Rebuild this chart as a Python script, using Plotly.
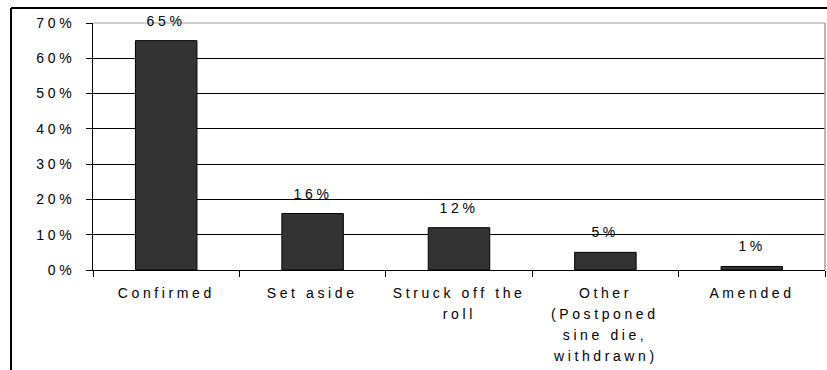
import plotly.graph_objects as go

categories = ["Confirmed", "Set aside", "Struck off the<br>roll",
              "Other<br>(Postponed<br>sine die,<br>withdrawn)", "Amended"]
shares = [65, 16, 12, 5, 1]
y_ticks = [0, 10, 20, 30, 40, 50, 60, 70]
y_tick_labels = [f"{v}%" for v in y_ticks]
value_labels = [f"{v}%" for v in shares]

FONT = dict(family="Liberation Sans, Arial, sans-serif", size=14, color="#000000")
LINE_STEP = 21  # spacing between lines of a category label, px

fig = go.Figure()
fig.add_trace(go.Bar(
    x=categories, y=shares,
    marker=dict(color="#333333", line=dict(color="#000000", width=1)),
    width=0.42,
    hoverinfo="skip",
))

# value labels above each bar
for cat, val, lab in zip(categories, shares, value_labels):
    fig.add_annotation(x=cat, y=val, text=lab, showarrow=False,
                       xanchor="center", yanchor="middle", yshift=20, font=FONT)

# category labels, one annotation per text line for wider line spacing
for cat in categories:
    for i, line in enumerate(cat.split("<br>")):
        fig.add_annotation(x=cat, xref="x", y=0, yref="paper", text=line,
                           showarrow=False, xanchor="center", yanchor="middle",
                           yshift=-(23 + i * LINE_STEP), font=FONT)

shapes = [
    # plot-area border (grey top and right edges)
    dict(type="line", xref="paper", yref="paper", x0=0, x1=1, y0=1, y1=1,
         line=dict(color="#a0a0a0", width=1), layer="above"),
    dict(type="line", xref="paper", yref="paper", x0=1, x1=1, y0=0, y1=1,
         line=dict(color="#a0a0a0", width=1.5), layer="above"),
    # outer chart frame (left and top edges)
    dict(type="line", xref="paper", yref="paper", x0=-0.112, x1=-0.112, y0=-0.5, y1=1.0607,
         line=dict(color="#000000", width=2), layer="above"),
    dict(type="line", xref="paper", yref="paper", x0=-0.112, x1=1.1, y0=1.0607, y1=1.0607,
         line=dict(color="#000000", width=2), layer="above"),
]

fig.update_layout(
    width=827, height=370,
    margin=dict(l=93, r=2, t=23, b=100),
    paper_bgcolor="white", plot_bgcolor="white",
    showlegend=False,
    font=FONT,
    shapes=shapes,
    xaxis=dict(
        type="category", range=[-0.5, 4.5],
        showline=True, linecolor="#000000", linewidth=1,
        ticks="outside", tickson="boundaries", ticklen=6, tickcolor="#000000",
        showgrid=False, showticklabels=False,
    ),
    yaxis=dict(
        range=[0, 70], tickvals=y_ticks, ticktext=y_tick_labels,
        showline=True, linecolor="#000000", linewidth=1,
        ticks="outside", ticklen=6, tickcolor="#000000",
        showgrid=True, gridcolor="#000000", gridwidth=1,
        zeroline=False, tickfont=FONT, ticklabelstandoff=8,
    ),
)

# widen the character spacing of all chart text
post = """
var gd = document.getElementById('{plot_id}');
gd.querySelectorAll('text').forEach(function(t){ t.style.letterSpacing = '3.6px'; });
"""

fig.write_html("out.html", post_script=post)
